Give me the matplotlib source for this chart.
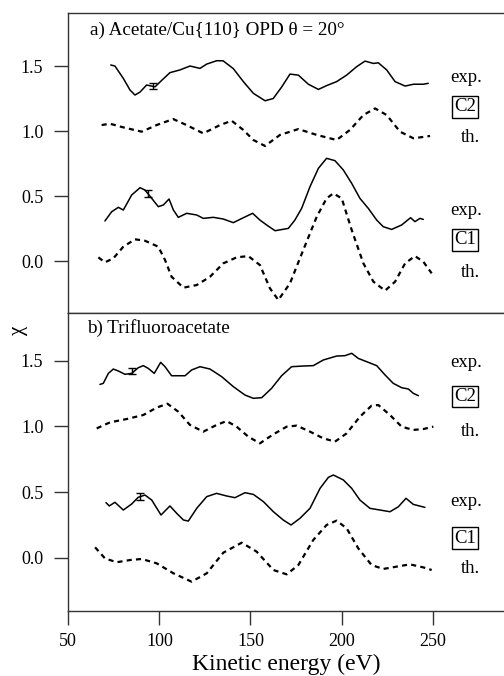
import matplotlib
matplotlib.use("Agg")
import matplotlib.pyplot as plt
import numpy as np

plt.rcParams['font.family'] = ['Liberation Serif', 'DejaVu Serif']
plt.rcParams['mathtext.fontset'] = 'stix'

# ---------------- Panel a: Acetate/Cu{110} ----------------
a_c2_exp_E = [73.3, 75.6, 80.2, 83.9, 86.6, 89.4, 93.0, 97.6, 101.3, 105.8, 111.3, 116.8, 122.3,
              126.0, 131.5, 135.0, 140.6, 146.1, 151.6, 158.0, 162.5, 167.2, 171.7, 176.3, 181.8,
              187.3, 191.9, 197.3, 202.8, 208.3, 212.9, 217.5, 220.2, 224.8, 229.4, 234.9, 239.5,
              244.9, 247.6]
a_c2_exp_y = [1.508, 1.50, 1.405, 1.315, 1.277, 1.30, 1.354, 1.34, 1.39, 1.449, 1.47, 1.50, 1.482,
              1.515, 1.541, 1.54, 1.48, 1.38, 1.29, 1.233, 1.25, 1.34, 1.438, 1.43, 1.36,
              1.32, 1.35, 1.38, 1.43, 1.495, 1.538, 1.52, 1.525, 1.47, 1.38, 1.346, 1.36,
              1.36, 1.367]
a_c2_th_E = [68.3, 72.9, 80.2, 90.3, 98.5, 107.6, 114.9, 124.1, 133.3, 139.7, 146.1, 151.6, 158.0,
             166.2, 176.3, 186.4, 197.3, 204.6, 212.0, 218.4, 224.8, 232.1, 239.5, 248.6]
a_c2_th_y = [1.046, 1.056, 1.028, 0.995, 1.046, 1.092, 1.046, 0.982, 1.046, 1.079, 1.008, 0.931, 0.885,
             0.97, 1.015, 0.97, 0.931, 1.008, 1.123, 1.174, 1.123, 0.995, 0.944, 0.962]
a_c1_exp_E = [70.1, 73.8, 77.5, 80.2, 84.8, 89.4, 92.1, 95.8, 99.4, 102.2, 105.3, 107.7, 110.4,
              115.0, 120.5, 124.1, 129.6, 135.1, 140.6, 146.1, 151.2, 155.2, 158.9, 163.5, 170.8,
              174.4, 178.1, 182.7, 187.3, 191.8, 196.4, 201.0, 205.6, 210.1, 214.7, 219.3, 222.9,
              227.5, 233.0, 237.9, 240.3, 243.1, 244.9]
a_c1_exp_y = [0.308, 0.379, 0.413, 0.392, 0.508, 0.564, 0.546, 0.482, 0.418, 0.431, 0.477, 0.392, 0.336,
              0.367, 0.354, 0.328, 0.336, 0.323, 0.295, 0.333, 0.367, 0.315, 0.277, 0.233, 0.251,
              0.315, 0.405, 0.572, 0.713, 0.790, 0.772, 0.700, 0.597, 0.482, 0.405, 0.315, 0.264,
              0.243, 0.277, 0.333, 0.303, 0.328, 0.320]
a_c1_th_E = [66.5, 70.1, 74.7, 80.2, 86.6, 92.1, 99.4, 103.1, 106.7, 113.2, 120.5, 127.8, 135.1,
             142.4, 148.8, 155.2, 160.7, 165.3, 171.7, 179.0, 186.4, 191.8, 195.5, 200.1, 205.6,
             212.0, 217.5, 223.9, 229.4, 234.9, 240.3, 244.9, 249.5]
a_c1_th_y = [0.028, -0.010, 0.020, 0.110, 0.167, 0.156, 0.110, 0.008, -0.121, -0.205, -0.185, -0.121, -0.018,
             0.028, 0.038, -0.031, -0.210, -0.300, -0.172, 0.085, 0.341, 0.482, 0.520, 0.482, 0.238,
             -0.018, -0.159, -0.228, -0.159, -0.018, 0.038, -0.005, -0.095]
a_err_E = [96.6, 93.9]
a_err_y = [1.345, 0.520]
a_err_h = [0.023, 0.025]

# ---------------- Panel b: Trifluoroacetate ----------------
b_c2_exp_E = [67.4, 69.2, 72.0, 74.7, 77.5, 81.1, 84.8, 88.4, 91.2, 93.9, 97.2, 100.7, 103.1,
              106.7, 114.1, 117.7, 122.3, 127.8, 134.2, 140.6, 147.0, 151.6, 156.2, 161.6, 167.1,
              172.6, 179.0, 184.5, 190.0, 197.3, 201.9, 205.6, 209.2, 213.8, 219.3, 223.9, 228.4,
              233.0, 236.7, 239.4, 242.2]
b_c2_exp_y = [1.320, 1.328, 1.404, 1.437, 1.422, 1.397, 1.404, 1.447, 1.463, 1.442, 1.404, 1.488, 1.455,
              1.386, 1.386, 1.430, 1.455, 1.437, 1.379, 1.303, 1.239, 1.214, 1.219, 1.290, 1.386,
              1.455, 1.460, 1.463, 1.506, 1.536, 1.539, 1.557, 1.518, 1.493, 1.463, 1.392, 1.328,
              1.295, 1.285, 1.252, 1.234]
b_c2_th_E = [65.6, 72.9, 82.0, 91.2, 98.5, 104.4, 110.4, 116.8, 124.1, 131.4, 136.9, 142.4, 148.8,
             155.2, 162.6, 169.9, 175.4, 182.7, 190.0, 196.4, 202.8, 210.1, 216.5, 220.2, 226.6,
             233.0, 239.4, 244.9, 250.4]
b_c2_th_y = [0.985, 1.031, 1.056, 1.087, 1.143, 1.173, 1.112, 1.011, 0.960, 1.011, 1.041, 0.998, 0.922,
             0.871, 0.940, 0.998, 1.006, 0.960, 0.909, 0.884, 0.947, 1.074, 1.158, 1.163, 1.087,
             0.998, 0.973, 0.980, 0.998]
b_c1_exp_E = [70.7, 72.5, 75.6, 80.2, 84.8, 88.4, 92.1, 95.8, 100.9, 105.8, 109.5, 113.2, 115.9,
              120.5, 126.0, 131.4, 136.9, 141.5, 147.0, 151.6, 157.1, 162.6, 168.0, 172.3, 177.2,
              182.7, 188.2, 192.8, 195.5, 201.0, 205.6, 210.1, 215.6, 221.1, 226.6, 231.2, 235.4,
              239.4, 245.8]
b_c1_exp_y = [0.419, 0.394, 0.422, 0.363, 0.409, 0.460, 0.477, 0.439, 0.325, 0.394, 0.338, 0.287, 0.279,
              0.376, 0.465, 0.490, 0.470, 0.457, 0.495, 0.482, 0.427, 0.350, 0.287, 0.249, 0.300,
              0.376, 0.528, 0.612, 0.630, 0.592, 0.528, 0.439, 0.376, 0.363, 0.350, 0.388, 0.452,
              0.406, 0.383]
b_c1_th_E = [64.7, 70.1, 76.5, 83.9, 90.3, 98.5, 107.7, 117.7, 126.0, 135.1, 145.2, 153.4, 162.6,
             169.9, 176.3, 184.5, 191.8, 197.3, 202.8, 209.2, 216.5, 222.9, 230.3, 237.6, 244.9, 249.5]
b_c1_th_y = [0.079, -0.005, -0.035, -0.018, -0.010, -0.043, -0.119, -0.183, -0.119, 0.038, 0.114, 0.046, -0.094,
             -0.127, -0.056, 0.135, 0.249, 0.282, 0.224, 0.071, -0.056, -0.086, -0.068, -0.051, -0.074, -0.094]
b_err_E = [84.8, 89.4]
b_err_y = [1.42, 0.465]
b_err_h = [0.022, 0.025]

yticks = [0.0, 0.5, 1.0, 1.5]
ytick_labels = ['0.0', '0.5', '1.0', '1.5']
xticks = [50, 100, 150, 200, 250]
xtick_labels = ['50', '100', '150', '200', '250']

fig = plt.figure(figsize=(5.04, 6.76), dpi=100)
left = 68.3 / 504
axa = fig.add_axes([left, 1 - 313 / 676, 1 - left, 300 / 676])
axb = fig.add_axes([left, 1 - 610.7 / 676, 1 - left, 297.7 / 676])

xmax = 50 + (504 - 68.3) / 1.8215
spine_col = '#333333'
dash = (0, (2.3, 1.9))

def style(ax, ylim, bottom_ticks):
    ax.set_xlim(50, xmax)
    ax.set_ylim(*ylim)
    ax.spines['right'].set_visible(False)
    for s in ['left', 'top', 'bottom']:
        ax.spines[s].set_color(spine_col)
        ax.spines[s].set_linewidth(1.0)
    ax.set_yticks(yticks)
    ax.set_yticklabels(ytick_labels)
    ax.tick_params(axis='y', direction='out', length=10, width=1, color=spine_col,
                   labelsize=13, pad=8)
    if bottom_ticks:
        ax.set_xticks(xticks)
        ax.set_xticklabels(xtick_labels)
        ax.tick_params(axis='x', direction='out', length=10, width=1, color=spine_col,
                       labelsize=13, pad=6)
    else:
        ax.set_xticks([])

style(axa, (-0.4, 1.908), False)
style(axb, (-0.404, 1.864), True)

lab_kw = dict(fontsize=13.5, ha='center', va='center')
box = dict(boxstyle='square,pad=0.12', facecolor='white', edgecolor='black', linewidth=1.0)

def draw(ax, c2e, c2t, c1e, c1t, errE, erry, errh, labels_y):
    solid_kw = dict(color='black', lw=1.1, solid_joinstyle='round', solid_capstyle='round')
    dash_kw = dict(color='black', lw=1.6, linestyle=dash, dash_capstyle='butt', dash_joinstyle='round')
    ax.plot(c2e[0], c2e[1], **solid_kw)
    ax.plot(c2t[0], c2t[1], **dash_kw)
    ax.plot(c1e[0], c1e[1], **solid_kw)
    ax.plot(c1t[0], c1t[1], **dash_kw)
    ax.errorbar(errE, erry, yerr=errh, fmt='none', ecolor='black', elinewidth=1,
                capsize=3, capthick=1)
    ys = labels_y
    ax.text(268.7, ys[0], 'exp.', **lab_kw)
    ax.text(267.8, ys[1], 'C2', bbox=box, **lab_kw)
    ax.text(271.0, ys[2], 'th.', **lab_kw)
    ax.text(268.7, ys[3], 'exp.', **lab_kw)
    ax.text(267.8, ys[4], 'C1', bbox=box, **lab_kw)
    ax.text(271.0, ys[5], 'th.', **lab_kw)

draw(axa, (a_c2_exp_E, a_c2_exp_y), (a_c2_th_E, a_c2_th_y),
     (a_c1_exp_E, a_c1_exp_y), (a_c1_th_E, a_c1_th_y),
     a_err_E, a_err_y, a_err_h, [1.415, 1.185, 0.954, 0.392, 0.162, -0.085])
draw(axb, (b_c2_exp_E, b_c2_exp_y), (b_c2_th_E, b_c2_th_y),
     (b_c1_exp_E, b_c1_exp_y), (b_c1_th_E, b_c1_th_y),
     b_err_E, b_err_y, b_err_h, [1.488, 1.226, 0.960, 0.426, 0.148, -0.081])

axa.text(61.9, 1.777, 'a) Acetate/Cu{110} OPD θ = 20°', fontsize=13.8, ha='left', va='center')
axb.text(60.4, 1.747, 'b) Trifluoroacetate', fontsize=13.8, ha='left', va='center')

axb.set_xlabel('Kinetic energy (eV)', fontsize=17, labelpad=3)
fig.text(18 / 504, 1 - 330 / 676, 'χ', rotation=90, fontsize=15, ha='center', va='center')

fig.savefig('out.png', dpi=100)
